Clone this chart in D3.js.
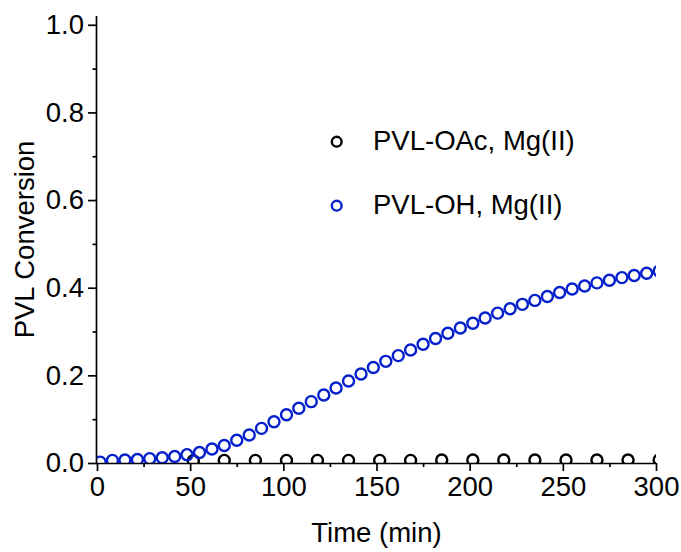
<!DOCTYPE html>
<html>
<head>
<meta charset="utf-8">
<script src="https://cdn.jsdelivr.net/npm/d3@7"></script>
<style>
  html, body { margin: 0; padding: 0; background: #fff; }
  svg { display: block; font-family: "Liberation Sans", Arial, sans-serif; }
</style>
</head>
<body>
<svg id="chart" width="681" height="552"></svg>
<script>
// PVL conversion vs time, Mg(II) catalysed runs
const ohTime = [1.7, 8.3, 15, 21.7, 28.3, 35, 41.7, 48.3, 55, 61.7, 68.3, 75, 81.7, 88.3, 95,
  101.7, 108.3, 115, 121.7, 128.3, 135, 141.7, 148.3, 155, 161.7, 168.3, 175, 181.7, 188.3, 195,
  201.7, 208.3, 215, 221.7, 228.3, 235, 241.7, 248.3, 255, 261.7, 268.3, 275, 281.7, 288.3, 295, 301.7];
const ohConv = [0.002, 0.006, 0.007, 0.008, 0.010, 0.012, 0.015, 0.019, 0.024, 0.032, 0.040, 0.052,
  0.064, 0.079, 0.094, 0.110, 0.125, 0.140, 0.155, 0.171, 0.187, 0.203, 0.218, 0.232, 0.245, 0.258,
  0.271, 0.284, 0.296, 0.308, 0.319, 0.331, 0.342, 0.352, 0.362, 0.371, 0.380, 0.389, 0.397, 0.404,
  0.411, 0.417, 0.423, 0.428, 0.433, 0.438];

const oacTime = [51.7, 68.3, 85, 101.7, 118.3, 135, 151.7, 168.3, 185, 201.7,
  218.3, 235, 251.7, 268.3, 285, 301.7];
const oacConv = [0.005, 0.006, 0.006, 0.006, 0.006, 0.006, 0.006, 0.006,
  0.007, 0.007, 0.007, 0.007, 0.007, 0.007, 0.007, 0.007];

const xTicks = [0, 50, 100, 150, 200, 250, 300];
const xMinorTicks = [25, 75, 125, 175, 225, 275];
const yTicks = [0, 0.2, 0.4, 0.6, 0.8, 1.0];
const yMinorTicks = [0.1, 0.3, 0.5, 0.7, 0.9];
const seriesNames = ["PVL-OAc, Mg(II)", "PVL-OH, Mg(II)"];
const seriesColors = ["#000000", "#0520cc"];

const svg = d3.select("#chart");
const m = { left: 97, right: 656, top: 16, bottom: 463 };

const x = d3.scaleLinear().domain([0, 300]).range([m.left, m.right]);
const y = d3.scaleLinear().domain([0, 1.02]).range([m.bottom, m.top]);

const fontSize = 27.5;
const markerR = 5.5;
const markerW = 2.4;

// clip markers to the plotting frame
svg.append("defs").append("clipPath").attr("id", "plotClip")
  .append("rect").attr("x", m.left).attr("y", m.top)
  .attr("width", m.right - m.left).attr("height", m.bottom - m.top);

const xAxis = d3.axisBottom(x).tickValues(xTicks).tickFormat(d3.format("d"))
  .tickSize(8).tickPadding(5);
const yAxis = d3.axisLeft(y).tickValues(yTicks).tickFormat(d3.format(".1f"))
  .tickSize(9).tickPadding(4);

const gx = svg.append("g").attr("transform", `translate(0,${m.bottom})`).call(xAxis);
const gy = svg.append("g").attr("transform", `translate(${m.left},0)`).call(yAxis);

svg.append("g").attr("transform", `translate(0,${m.bottom})`)
  .call(d3.axisBottom(x).tickValues(xMinorTicks).tickSize(4).tickFormat(""))
  .call(g => g.select(".domain").remove());
svg.append("g").attr("transform", `translate(${m.left},0)`)
  .call(d3.axisLeft(y).tickValues(yMinorTicks).tickSize(4.5).tickFormat(""))
  .call(g => g.select(".domain").remove());

svg.selectAll(".domain").attr("stroke", "#000").attr("stroke-width", 1.7);
svg.selectAll(".tick line").attr("stroke", "#000").attr("stroke-width", 1.7);
svg.selectAll(".tick text").attr("fill", "#000").attr("font-size", fontSize)
  .attr("font-family", "Liberation Sans, Arial, sans-serif");
// domain paths drawn without outer end ticks
gx.select(".domain").attr("d", `M${m.left},0.5H${m.right}`);
gy.select(".domain").attr("d", `M-0.5,${m.bottom}V${m.top}`);

// axis titles
svg.append("text").attr("x", (m.left + m.right) / 2).attr("y", 542)
  .attr("text-anchor", "middle").attr("font-size", fontSize).text("Time (min)");
svg.append("text")
  .attr("transform", `translate(34,${(m.top + m.bottom) / 2}) rotate(-90)`)
  .attr("text-anchor", "middle").attr("font-size", fontSize).text("PVL Conversion");

// data markers
const plot = svg.append("g").attr("clip-path", "url(#plotClip)");
const series = [
  { t: oacTime, v: oacConv, color: seriesColors[0] },
  { t: ohTime, v: ohConv, color: seriesColors[1] }
];
series.forEach(s => {
  plot.append("g").selectAll("circle")
    .data(s.t.map((t, i) => [t, s.v[i]]))
    .join("circle")
    .attr("cx", d => x(d[0]))
    .attr("cy", d => y(d[1]))
    .attr("r", markerR)
    .attr("fill", "none")
    .attr("stroke", s.color)
    .attr("stroke-width", markerW);
});

// legend
const legend = svg.append("g");
seriesNames.forEach((name, i) => {
  const cy = 141.7 + i * 64;
  legend.append("circle").attr("cx", 336.7).attr("cy", cy).attr("r", 4.9)
    .attr("fill", "none").attr("stroke", seriesColors[i]).attr("stroke-width", markerW);
  legend.append("text").attr("x", 373).attr("y", cy + 8)
    .attr("font-size", fontSize)
    .text(name);
});
</script>
</body>
</html>
